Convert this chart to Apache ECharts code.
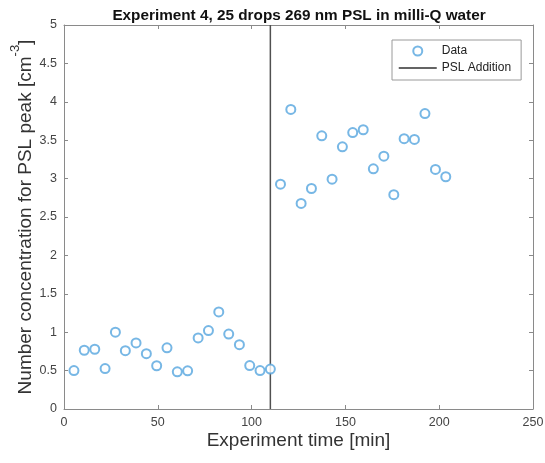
<!DOCTYPE html>
<html>
<head>
<meta charset="utf-8">
<script src="https://cdn.jsdelivr.net/npm/echarts@6/dist/echarts.min.js"></script>
<style>html,body{margin:0;padding:0;background:#fff}#c{width:545px;height:463px}</style>
</head>
<body>
<div id="c"></div>
<script>
const timeMin = [5.3,10.8,16.4,21.9,27.4,32.7,38.4,43.9,49.4,54.9,60.4,65.9,71.5,77.0,82.5,87.8,93.5,99.0,104.5,110.0,
  115.4,120.9,126.4,131.9,137.4,142.9,148.4,153.9,159.5,164.9,170.5,175.8,181.3,186.8,192.4,198.0,203.5];
const concentration = [0.50,0.765,0.778,0.527,1.00,0.76,0.86,0.72,0.563,0.796,0.484,0.497,0.926,1.021,1.264,0.975,0.837,0.566,0.50,0.52,
  2.928,3.90,2.676,2.871,3.557,2.993,3.414,3.60,3.636,3.127,3.292,2.79,3.52,3.51,3.847,3.12,3.024];
const pslAdditionTime = 110;
const yRange = [0, 5];
const xTicks = [0, 50, 100, 150, 200, 250];
const yTicks = [0, 0.5, 1, 1.5, 2, 2.5, 3, 3.5, 4, 4.5, 5];

const FONT = 'Liberation Sans, Arial, Helvetica, sans-serif';
const axisCol = '#8a8a8a';
const labCol = '#444';

const pts = timeMin.map((t, i) => [t, concentration[i]]);
const vline = [[pslAdditionTime, yRange[0]], [pslAdditionTime, yRange[1]]];

const chart = echarts.init(document.getElementById('c'));
const baseX = {
  type: 'value', min: xTicks[0], max: xTicks[xTicks.length - 1], interval: 50,
  axisLine: { show: true, onZero: false, lineStyle: { color: axisCol, width: 1 } },
  axisTick: { show: true, inside: true, length: 4, lineStyle: { color: axisCol } },
  splitLine: { show: false }
};
const baseY = {
  type: 'value', min: yTicks[0], max: yTicks[yTicks.length - 1], interval: 0.5,
  axisLine: { show: true, onZero: false, lineStyle: { color: axisCol, width: 1 } },
  axisTick: { show: true, inside: true, length: 4, lineStyle: { color: axisCol } },
  splitLine: { show: false }
};
chart.setOption({
  backgroundColor: '#fff',
  animation: false,
  title: {
    text: 'Experiment 4, 25 drops 269 nm PSL in milli-Q water',
    left: 299, top: 8, textAlign: 'center', padding: 0,
    textStyle: { fontFamily: FONT, fontSize: 15.3, fontWeight: 'bold', color: '#111' }
  },
  grid: { left: 64, right: 12, top: 25, bottom: 54, outerBoundsMode: 'none', containLabel: false },
  legend: {
    orient: 'vertical', left: 392, top: 40, width: 125,
    backgroundColor: '#fff', borderColor: '#9a9a9a', borderWidth: 1,
    padding: [5, 10, 6, 6], itemGap: 5, itemWidth: 38, itemHeight: 9,
    textStyle: { fontFamily: FONT, fontSize: 12, color: '#222' },
    data: [
      { name: 'Data', icon: 'emptyCircle' },
      { name: 'PSL Addition', itemStyle: { opacity: 0 }, lineStyle: { color: '#303030', width: 1.5, opacity: 1 } }
    ]
  },
  xAxis: [
    Object.assign({}, baseX, {
      position: 'bottom',
      axisLabel: { show: true, margin: 7, fontFamily: FONT, fontSize: 12.5, color: labCol },
      name: 'Experiment time [min]', nameLocation: 'middle', nameGap: 22, nameMoveOverlap: false,
      nameTextStyle: { fontFamily: FONT, fontSize: 19, color: '#333' }
    }),
    Object.assign({}, baseX, { position: 'top', axisLabel: { show: false } })
  ],
  yAxis: [
    Object.assign({}, baseY, {
      position: 'left',
      axisLabel: { show: true, margin: 7, fontFamily: FONT, fontSize: 12.5, color: labCol },
      name: '{a|Number concentration for PSL peak [cm}{s|-3}{a|]}', nameLocation: 'middle', nameGap: 29,
      nameMoveOverlap: false,
      nameTextStyle: {
        fontFamily: FONT, color: '#333',
        rich: {
          a: { fontFamily: FONT, fontSize: 19, color: '#333', lineHeight: 26, verticalAlign: 'bottom' },
          s: { fontFamily: FONT, fontSize: 13, color: '#333', lineHeight: 26, verticalAlign: 'top' }
        }
      }
    }),
    Object.assign({}, baseY, { position: 'right', axisLabel: { show: false } })
  ],
  series: [
    {
      name: 'Data', type: 'scatter', data: pts, symbol: 'emptyCircle', symbolSize: 9,
      itemStyle: { color: '#55a5de', borderColor: '#55a5de', borderWidth: 1 },
      xAxisIndex: 0, yAxisIndex: 0, z: 3
    },
    {
      name: 'PSL Addition', type: 'line', data: vline, symbol: 'none', showSymbol: false,
      lineStyle: { color: '#505050', width: 1.5 }, itemStyle: { color: '#505050' },
      xAxisIndex: 0, yAxisIndex: 0, z: 2
    }
  ]
});
</script>
</body>
</html>
